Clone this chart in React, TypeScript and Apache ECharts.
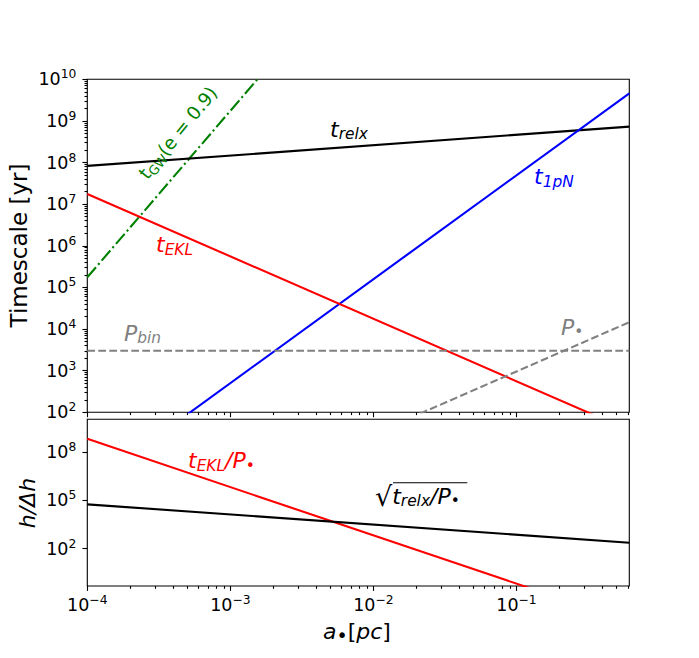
import React, { useEffect, useRef } from "react";
import * as echarts from "echarts";

// ---------------- data ----------------
// Every curve is a straight power law on the log-log axes; the values below are
// the curves read at the two ends of the a• range (the library clips to the frame).
const A_ENDS = [1e-4, 0.615]; // a• [pc]
const T_RELX = [8.3e7, 7.3e8]; // t_relx [yr]
const T_1PN = [1.6, 4.6e9]; // t_1pN [yr]
const T_EKL = [1.76e7, 36.6]; // t_EKL [yr]
const T_GW = [1.75e5, 2.5e20]; // t_GW(e=0.9) [yr]
const P_BIN = [3.0e3, 3.0e3]; // P_bin [yr]
const P_STAR = [0.03, 1.46e4]; // P• [yr]
const H_EKL = [6.8e8, 2.9e-3]; // t_EKL / P•
const H_RELX = [5.75e4, 237]; // sqrt(t_relx / P•)

// axis ranges and tick exponents
const X_RANGE = [1e-4, 0.615];
const TOP_Y_RANGE = [1e2, 1e10];
const BOT_Y_RANGE = [0.48, 1.12e10];
const X_TICK_EXP = [-4, -3, -2, -1];
const TOP_Y_TICK_EXP = [2, 3, 4, 5, 6, 7, 8, 9, 10];
const BOT_Y_TICK_EXP = [2, 5, 8];
const MINOR_SUBS = [2, 3, 4, 5, 6, 7, 8, 9];

// ---------------- helpers ----------------
const F = "DejaVu Sans";
const lg = Math.log10;

function minorTicks(lo: number, hi: number): number[] {
  const out: number[] = [];
  for (let n = Math.floor(lo) - 1; n <= Math.ceil(hi); n++) {
    for (const k of MINOR_SUBS) {
      const v = n + lg(k);
      if (v > lo + 1e-9 && v < hi - 1e-9) out.push(v);
    }
  }
  return out;
}

const pow10 = (v: number) => {
  const e = Math.round(v);
  return `{b|10}{s|${e < 0 ? "\u2212" + -e : e}}`;
};

const tickRich = {
  b: { fontFamily: F, fontSize: 17.5, color: "#000", lineHeight: 22 },
  s: { fontFamily: F, fontSize: 12.3, color: "#000", lineHeight: 22, padding: [0, 0, 10, 0] },
};

const TICK_LINE = { color: "#000", width: 1.1 };

function mathRich(color: string, upright = false, size = 22) {
  const st = upright ? "normal" : "italic";
  const sub = size * 0.7;
  return {
    m: { fontFamily: F, fontSize: size, fontStyle: st, fill: color, lineHeight: 26 },
    s: { fontFamily: F, fontSize: sub, fontStyle: st, fill: color, lineHeight: 26, padding: [10, 0, 0, 0] },
    d: { fontFamily: F, fontSize: 19, fontStyle: "normal", fill: color, lineHeight: 26, padding: [8, 0, 0, 0] },
    u: { fontFamily: F, fontSize: size, fontStyle: "normal", fill: color, lineHeight: 26 },
    r: { fontFamily: F, fontSize: 27, fontStyle: "normal", fill: color, lineHeight: 26 },
  };
}

function mathText(
  x: number,
  y: number,
  text: string,
  color: string,
  extra: any = {},
  upright = false,
  align = "left",
  size = 22
) {
  return {
    type: "text",
    x,
    y,
    silent: true,
    z: 10,
    ...extra,
    style: {
      text,
      rich: mathRich(color, upright, size),
      align,
      verticalAlign: "middle",
      fill: color,
      fontFamily: F,
      fontSize: size,
    },
  };
}

function buildOption() {
  const xr = [lg(X_RANGE[0]), lg(X_RANGE[1])];
  const tyr = [lg(TOP_Y_RANGE[0]), lg(TOP_Y_RANGE[1])];
  const byr = [lg(BOT_Y_RANGE[0]), lg(BOT_Y_RANGE[1])];
  const xMinor = minorTicks(xr[0], xr[1]);
  const yMinorTop = minorTicks(tyr[0], tyr[1]);

  const xBase = (gridIndex: number) => ({
    type: "value",
    gridIndex,
    min: xr[0],
    max: xr[1],
    position: "bottom",
    axisLine: { show: false, onZero: false },
    splitLine: { show: false },
  });
  const yBase = (gridIndex: number, r: number[]) => ({
    type: "value",
    gridIndex,
    min: r[0],
    max: r[1],
    position: "left",
    axisLine: { show: false, onZero: false },
    splitLine: { show: false },
  });

  const line = (ys: number[], color: string, type: any, xi: number, yi: number) => ({
    type: "line",
    xAxisIndex: xi,
    yAxisIndex: yi,
    data: A_ENDS.map((a, i) => [lg(a), lg(ys[i])]),
    symbol: "none",
    showSymbol: false,
    clip: true,
    silent: true,
    lineStyle: { color, width: 2.1, type, cap: "butt" },
    z: 3,
  });

  const DASH = [7.7, 3.3];
  const DASHDOT = [13.3, 3.3, 2.1, 3.3];

  return {
    animation: false,
    backgroundColor: "#fff",
    grid: [
      { left: 87.3, width: 542, top: 79.3, height: 333, show: true, borderColor: "#000", borderWidth: 1.1, containLabel: false },
      { left: 87.3, width: 542, top: 419.3, height: 166.7, show: true, borderColor: "#000", borderWidth: 1.1, containLabel: false },
    ],
    xAxis: [
      { ...xBase(0), axisTick: { customValues: X_TICK_EXP, length: 4.9, lineStyle: TICK_LINE }, axisLabel: { show: false } },
      { ...xBase(0), axisTick: { customValues: xMinor, length: 2.8, lineStyle: TICK_LINE }, axisLabel: { show: false } },
      {
        ...xBase(1),
        axisTick: { customValues: X_TICK_EXP, length: 4.9, lineStyle: TICK_LINE },
        axisLabel: { customValues: X_TICK_EXP, formatter: pow10, rich: tickRich, margin: 7.5, fontFamily: F, color: "#000" },
      },
      { ...xBase(1), axisTick: { customValues: xMinor, length: 2.8, lineStyle: TICK_LINE }, axisLabel: { show: false } },
    ],
    yAxis: [
      {
        ...yBase(0, tyr),
        axisTick: { customValues: TOP_Y_TICK_EXP, length: 4.9, lineStyle: TICK_LINE },
        axisLabel: { customValues: TOP_Y_TICK_EXP, formatter: pow10, rich: tickRich, margin: 11, fontFamily: F, color: "#000" },
      },
      { ...yBase(0, tyr), axisTick: { customValues: yMinorTop, length: 2.8, lineStyle: TICK_LINE }, axisLabel: { show: false } },
      {
        ...yBase(1, byr),
        axisTick: { customValues: BOT_Y_TICK_EXP, length: 4.9, lineStyle: TICK_LINE },
        axisLabel: { customValues: BOT_Y_TICK_EXP, formatter: pow10, rich: tickRich, margin: 11, fontFamily: F, color: "#000" },
      },
    ],
    series: [
      line(T_GW, "#008000", DASHDOT, 0, 0),
      line(T_RELX, "#000000", "solid", 0, 0),
      line(T_1PN, "#0000ff", "solid", 0, 0),
      line(T_EKL, "#ff0000", "solid", 0, 0),
      line(P_BIN, "#808080", DASH, 0, 0),
      line(P_STAR, "#808080", DASH, 0, 0),
      line(H_EKL, "#ff0000", "solid", 2, 2),
      line(H_RELX, "#000000", "solid", 2, 2),
    ],
    graphic: [
      // axis titles
      {
        type: "text",
        x: 18.5,
        y: 245.5,
        rotation: Math.PI / 2,
        silent: true,
        style: { text: "Timescale [yr]", fontFamily: F, fontSize: 23, fill: "#000", align: "center", verticalAlign: "middle" },
      },
      {
        type: "text",
        x: 27,
        y: 503,
        rotation: Math.PI / 2,
        silent: true,
        style: { text: "h/\u0394h", fontFamily: F, fontSize: 22, fontStyle: "italic", fill: "#000", align: "center", verticalAlign: "middle" },
      },
      mathText(357, 631.4, "{m|a}{d|\u2022}{u|[}{m|pc}{u|]}", "#000", {}, false, "center"),
      // curve annotations, top panel
      mathText(330, 129.4, "{m|t}{s|relx}", "#000000"),
      mathText(534, 176.7, "{m|t}{s|1pN}", "#0000ff"),
      mathText(156, 244.7, "{m|t}{s|EKL}", "#ff0000"),
      mathText(124, 333.4, "{m|P}{s|bin}", "#808080"),
      mathText(561, 327.4, "{m|P}{s|\u2022}", "#808080"),
      mathText(142.5, 176.5, "{m|t}{s|GW}{m|(e = 0.9)}", "#008000", { rotation: (51 * Math.PI) / 180 }, true, "left", 18.5),
      // bottom panel
      mathText(188, 460.7, "{m|t}{s|EKL}{m|/P}{s|\u2022}", "#ff0000"),
      mathText(375, 496.4, "{r|\u221A}{m|t}{s|relx}{m|/P}{s|\u2022}", "#000000"),
      {
        type: "line",
        silent: true,
        shape: { x1: 393, y1: 482.7, x2: 467.3, y2: 482.7 },
        style: { stroke: "#000", lineWidth: 1.1 },
      },
    ],
  };
}

export default function App() {
  const ref = useRef<HTMLDivElement>(null);
  useEffect(() => {
    document.body.style.margin = "0";
    const chart = echarts.init(ref.current as HTMLDivElement, null, { renderer: "svg" });
    chart.setOption(buildOption() as any);
    return () => chart.dispose();
  }, []);
  return (
    <div
      ref={ref}
      style={{ position: "fixed", left: 0, top: 0, width: 699, height: 658, background: "#fff" }}
    />
  );
}
